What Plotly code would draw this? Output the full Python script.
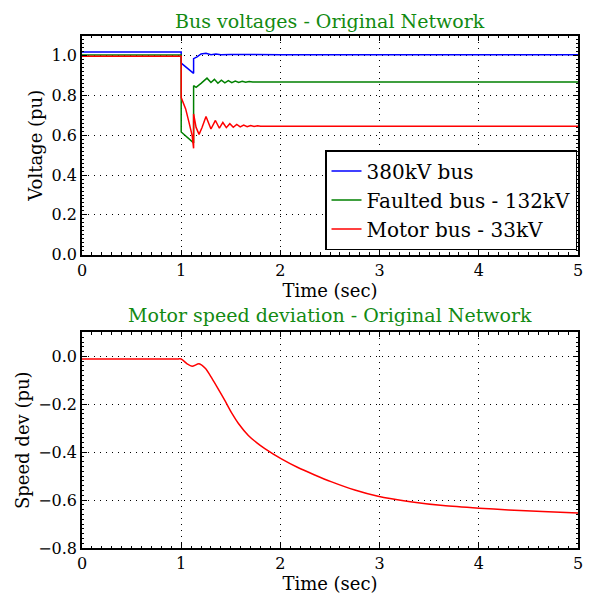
import plotly.graph_objects as go

# ---- data ----
t_blue = [0.0, 1.0, 1.0, 1.125, 1.125, 1.16, 1.2, 1.25, 1.3, 1.35, 1.4, 1.5, 2.0, 3.0, 4.0, 5.0]
v_blue = [1.02, 1.02, 0.964, 0.912, 0.986, 0.995, 1.010, 1.013, 1.006, 1.009, 1.006, 1.007, 1.006, 1.006, 1.006, 1.006]

t_green = [0.0, 1.0, 1.0, 1.125, 1.125, 1.15, 1.2, 1.26, 1.30, 1.335, 1.37, 1.405, 1.44, 1.475,
           1.51, 1.545, 1.58, 1.615, 1.65, 1.685, 1.72, 1.755, 1.8, 2.0, 3.0, 4.0, 5.0]
v_green = [1.005, 1.005, 0.617, 0.562, 0.85, 0.842, 0.862, 0.888, 0.866, 0.882, 0.862, 0.878, 0.864,
           0.875, 0.865, 0.873, 0.866, 0.872, 0.867, 0.871, 0.868, 0.870, 0.869, 0.869, 0.869, 0.869, 0.869]

t_red = [0.0, 1.0, 1.0, 1.045, 1.078, 1.11, 1.125, 1.125, 1.15, 1.18, 1.21, 1.25, 1.30, 1.345, 1.385,
         1.42, 1.455, 1.49, 1.525, 1.56, 1.595, 1.63, 1.665, 1.70, 1.735, 1.77, 1.8, 2.0, 3.0, 4.0, 5.0]
v_red = [0.998, 0.998, 0.79, 0.733, 0.667, 0.60, 0.535, 0.708, 0.64, 0.605, 0.64, 0.695, 0.632, 0.675,
         0.636, 0.665, 0.639, 0.659, 0.641, 0.655, 0.643, 0.652, 0.644, 0.650, 0.645, 0.648, 0.646,
         0.646, 0.646, 0.646, 0.646]

t_speed = [0.0, 0.95, 1.0, 1.06, 1.11, 1.18, 1.245, 1.31, 1.377, 1.444, 1.51, 1.577, 1.677, 1.76, 1.843, 2.01,
           2.176, 2.34, 2.51, 2.75, 2.974, 3.31, 3.64, 4.005, 4.30, 4.64, 5.0]
v_speed = [-0.011, -0.011, -0.011, -0.031, -0.041, -0.031, -0.051, -0.092, -0.139, -0.187, -0.237, -0.280,
           -0.330, -0.360, -0.385, -0.428, -0.464, -0.494, -0.523, -0.558, -0.583, -0.607, -0.623, -0.634,
           -0.641, -0.648, -0.654]

x_ticks = [0, 1, 2, 3, 4, 5]
volt_ticks = [0.0, 0.2, 0.4, 0.6, 0.8, 1.0]
speed_ticks = [-0.8, -0.6, -0.4, -0.2, 0.0]

FONT = "DejaVu Serif"
GREEN_TITLE = "#128a12"

fig = go.Figure()
fig.add_trace(go.Scatter(x=t_blue, y=v_blue, mode="lines", name="380kV bus",
                         line=dict(color="#0000ff", width=1.5), legendgroup="a",
                         xaxis="x", yaxis="y"))
fig.add_trace(go.Scatter(x=t_green, y=v_green, mode="lines", name="Faulted bus - 132kV",
                         line=dict(color="#008000", width=1.5), legendgroup="b",
                         xaxis="x", yaxis="y"))
fig.add_trace(go.Scatter(x=t_red, y=v_red, mode="lines", name="Motor bus - 33kV",
                         line=dict(color="#ff0000", width=1.5), legendgroup="c",
                         xaxis="x", yaxis="y"))
fig.add_trace(go.Scatter(x=t_speed, y=v_speed, mode="lines", showlegend=False,
                         line=dict(color="#ff0000", width=1.5, shape="spline", smoothing=0.7),
                         xaxis="x2", yaxis="y2"))

def xax(anchor):
    return dict(range=[0, 5], tickvals=x_ticks, ticktext=[str(v) for v in x_ticks],
                showline=True, linecolor="black", linewidth=1.5, mirror="ticks",
                ticks="inside", ticklen=5, tickcolor="black",
                minor=dict(ticks="inside", dtick=0.1, ticklen=2.5, tickcolor="black"),
                showgrid=True, gridcolor="black", gridwidth=1, griddash="1px,5px",
                zeroline=False, anchor=anchor,
                tickfont=dict(family=FONT, size=16, color="black"),
                title=dict(text="Time (sec)", font=dict(family=FONT, size=18, color="black"),
                           standoff=2))

def yax(rng, ticks, title, anchor, domain, minor_dt):
    return dict(range=rng, tickvals=ticks, tickformat=".1f", domain=domain,
                showline=True, linecolor="black", linewidth=1.5, mirror="ticks",
                ticks="inside", ticklen=5, tickcolor="black",
                minor=dict(ticks="inside", dtick=minor_dt, ticklen=2.5, tickcolor="black"),
                showgrid=True, gridcolor="black", gridwidth=1, griddash="1px,5px",
                zeroline=False, anchor=anchor,
                tickfont=dict(family=FONT, size=16, color="black"),
                title=dict(text=title, font=dict(family=FONT, size=18, color="black"),
                           standoff=4))

fig.update_layout(
    width=593, height=598,
    margin=dict(l=82, r=10, t=36, b=42),
    paper_bgcolor="white", plot_bgcolor="white",
    xaxis=xax("y"),
    yaxis=yax([0, 1.1], volt_ticks, "Voltage (pu)", "x", [0.573, 1.0], 0.02),
    xaxis2=xax("y2"),
    yaxis2=yax([-0.8, 0.1], speed_ticks, "Speed dev (pu)", "x2", [0.0, 0.421], 0.02),
    legend=dict(x=0.998, y=0.582, xanchor="right", yanchor="bottom",
                bgcolor="white", bordercolor="black", borderwidth=1.5,
                font=dict(family=FONT, size=20, color="black"),
                traceorder="grouped", tracegroupgap=0, itemwidth=30),
    annotations=[
        dict(text="Bus voltages - Original Network", xref="paper", yref="paper",
             x=0.5, y=1.0, xanchor="center", yanchor="bottom", yshift=2, showarrow=False,
             font=dict(family=FONT, size=19, color=GREEN_TITLE)),
        dict(text="Motor speed deviation - Original Network", xref="paper", yref="paper",
             x=0.5, y=0.421, xanchor="center", yanchor="bottom", yshift=4, showarrow=False,
             font=dict(family=FONT, size=19, color=GREEN_TITLE)),
    ],
)

fig.write_html("out.html")
